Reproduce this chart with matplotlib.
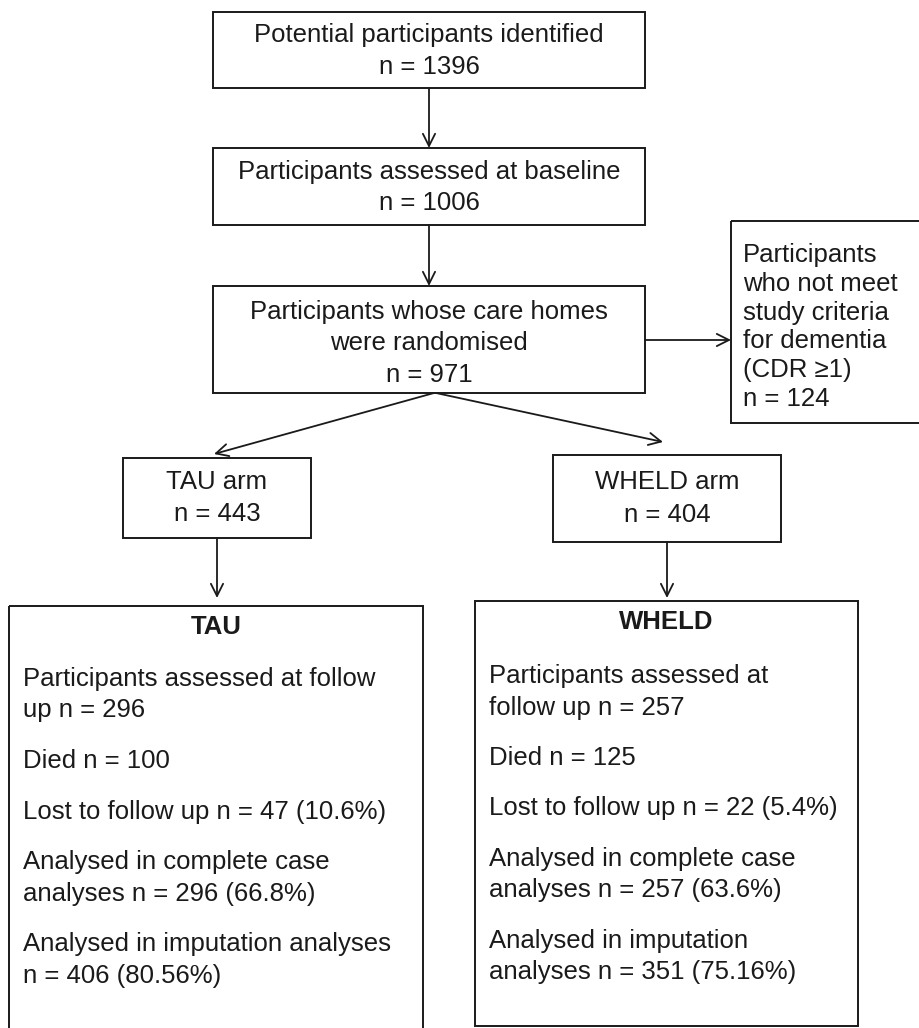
import matplotlib.pyplot as plt
from matplotlib.patches import Rectangle

# flow counts
stage_labels = ["Potential participants identified",
                "Participants assessed at baseline",
                "Participants whose care homes\nwere randomised"]
stage_n = [1396, 1006, 971]
excluded_label = "Participants\nwho not meet\nstudy criteria\nfor dementia\n(CDR \u22651)"
excluded_n = 124
arm_names = ["TAU", "WHELD"]
arm_n = [443, 404]
followup_n = [296, 257]
died_n = [100, 125]
lost_n = [47, 22]
lost_pct = ["10.6", "5.4"]
complete_n = [296, 257]
complete_pct = ["66.8", "63.6"]
imput_n = [406, 351]
imput_pct = ["80.56", "75.16"]

plt.rcParams['font.family'] = ['Liberation Sans', 'DejaVu Sans']
fs = 18.5
ink = '#1a1a1a'

fig = plt.figure(figsize=(9.19, 10.28), dpi=100)
ax = fig.add_axes([0, 0, 1, 1])
ax.set_xlim(0, 919)
ax.set_ylim(1028, 0)
ax.axis('off')


def box(x0, y0, x1, y1):
    ax.add_patch(Rectangle((x0, y0), x1 - x0, y1 - y0, fill=False,
                           edgecolor=ink, lw=1.4, clip_on=False))


def arrow(x0, y0, x1, y1):
    ax.annotate('', xy=(x1, y1), xytext=(x0, y0),
                arrowprops=dict(arrowstyle='->', color=ink, lw=1.3,
                                mutation_scale=22, shrinkA=0, shrinkB=0))


# top three boxes
tops = [(12, 88), (148, 225), (286, 393)]
spacings = [1.43, 1.34, 1.38]
nudges = [1, 1, 4]
for (y0, y1), lab, n, ls, dy in zip(tops, stage_labels, stage_n, spacings, nudges):
    box(213, y0, 645, y1)
    ax.text(429, (y0 + y1) / 2 + dy, f"{lab}\nn = {n}", ha='center', va='center',
            fontsize=fs, color=ink, linespacing=ls)
arrow(429, 88, 429, 148)
arrow(429, 225, 429, 286)

# excluded box
box(731, 221, 930, 423)
ax.text(743, 327, f"{excluded_label}\nn = {excluded_n}", ha='left', va='center',
        fontsize=fs, color=ink, linespacing=1.25)
arrow(645, 340, 731, 340)

# arm boxes
arm_boxes = [(123, 458, 311, 538), (553, 455, 781, 542)]
for (x0, y0, x1, y1), name, n in zip(arm_boxes, arm_names, arm_n):
    box(x0, y0, x1, y1)
    ax.text((x0 + x1) / 2, (y0 + y1) / 2, f"{name} arm\nn = {n}", ha='center',
            va='center', fontsize=fs, color=ink, linespacing=1.45)
arrow(434, 393, 214, 454)
arrow(436, 393, 663, 442)
arrow(217, 538, 217, 598)
arrow(667, 542, 667, 598)

# outcome boxes
tau_lines = [
    [f"Participants assessed at follow", f"up n = {followup_n[0]}"],
    [f"Died n = {died_n[0]}"],
    [f"Lost to follow up n = {lost_n[0]} ({lost_pct[0]}%)"],
    ["Analysed in complete case", f"analyses n = {complete_n[0]} ({complete_pct[0]}%)"],
    ["Analysed in imputation analyses", f"n = {imput_n[0]} ({imput_pct[0]}%)"],
]
wheld_lines = [
    ["Participants assessed at", f"follow up n = {followup_n[1]}"],
    [f"Died n = {died_n[1]}"],
    [f"Lost to follow up n = {lost_n[1]} ({lost_pct[1]}%)"],
    ["Analysed in complete case", f"analyses n = {complete_n[1]} ({complete_pct[1]}%)"],
    ["Analysed in imputation", f"analyses n = {imput_n[1]} ({imput_pct[1]}%)"],
]
big_boxes = [(9, 606, 423, 1045), (475, 601, 858, 1026)]
starts = [679, 676]
for (x0, y0, x1, y1), name, paras, ys in zip(big_boxes, arm_names,
                                            [tau_lines, wheld_lines], starts):
    box(x0, y0, x1, y1)
    ax.text((x0 + x1) / 2, y0 + 21, name, ha='center', va='center',
            fontsize=fs, fontweight='bold', color=ink)
    y = ys
    for para in paras:
        for line in para:
            ax.text(x0 + 14, y, line, ha='left', va='center', fontsize=fs, color=ink)
            y += 31.5
        y += 19

fig.savefig("out.png", dpi=100, facecolor='white')
